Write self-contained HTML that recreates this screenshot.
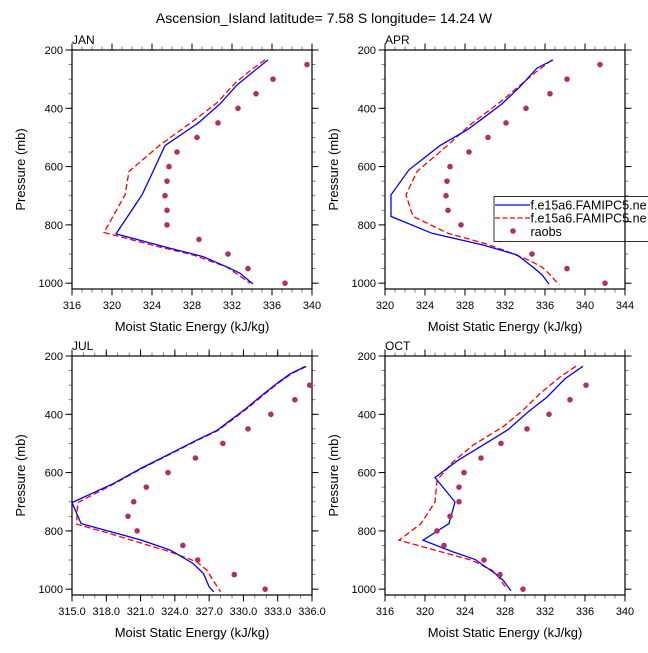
<!DOCTYPE html>
<html><head><meta charset="utf-8"><style>
html,body{margin:0;padding:0;background:#fff;overflow:hidden;}
svg text{font-family:"Liberation Sans",sans-serif;fill:#000;}
</style></head><body>
<svg id="fig" width="648" height="648" viewBox="0 0 648 648" xmlns="http://www.w3.org/2000/svg">
<text x="324" y="23" text-anchor="middle" font-size="14">Ascension_Island  latitude= 7.58 S longitude= 14.24 W</text>
</svg>
<script>
// Shared raob pressure levels
const raobP = [250,300,350,400,450,500,550,600,650,700,750,800,850,900,950,1000];
const yTicks = [200,400,600,800,1000];

// JAN
const janBlueP = [234,278,320,385,451,528,617,697,831,880,909,949,966,1003];
const janBlueV = [335.6,334.0,332.5,330.8,328.6,325.3,324.1,323.0,320.4,325.8,329.1,331.8,332.8,334.1];
const janRedP = [234,266,314,381,434,526,617,697,826,874,903,945,983,1000];
const janRedV = [335.3,334.0,332.3,330.5,328.5,324.8,321.7,321.3,319.2,324.5,328.1,331.5,333.1,333.8];
const janRaob = [339.5,336.1,334.4,332.6,330.6,328.5,326.5,325.7,325.5,325.3,325.5,325.5,328.7,331.6,333.6,337.3];
const janXTicks = [316,320,324,328,332,336,340];

// APR
const aprBlueP = [234,262,326,385,434,474,528,611,697,771,829,869,903,945,971,1003];
const aprBlueV = [336.8,335.2,333.5,331.7,329.8,328.2,325.5,322.4,320.6,320.6,324.7,329.8,333.2,334.8,335.7,336.4];
const aprRedP = [234,278,371,457,526,617,697,771,829,866,891,923,945,971,1006];
const aprRedV = [336.7,335.0,331.8,328.5,326.3,323.2,322.1,322.8,326.3,330.2,332.2,334.5,335.7,336.5,337.4];
const aprRaob = [341.5,338.2,336.5,334.1,332.1,330.3,328.4,326.5,326.2,326.1,326.3,327.6,331.5,334.7,338.2,342.0];
const aprXTicks = [320,324,328,332,336,340,344];

// JUL
const julBlueP = [236,261,289,329,381,455,489,535,586,638,703,775,832,866,912,946,992,1009];
const julBlueV = [335.4,334.1,333.1,331.8,330.2,327.7,325.9,323.6,321.0,318.6,315.0,315.8,321.1,323.6,325.6,326.5,327.0,327.4];
const julRedP = [236,261,289,329,381,455,489,535,586,638,703,777,809,872,906,935,967,1009];
const julRedV = [335.5,334.2,333.2,331.9,330.3,327.8,326.0,323.7,321.1,318.7,315.5,315.4,318.3,323.6,325.9,326.8,327.3,328.0];
const julRaob = [null,335.8,334.5,332.4,330.4,328.2,325.8,323.4,321.5,320.4,319.9,320.7,324.7,326.0,329.2,331.9];
const julXTicks = ["315.0","318.0","321.0","324.0","327.0","330.0","333.0","336.0"];

// OCT
const octBlueP = [235,278,341,392,453,512,558,617,701,775,832,872,898,946,969,1006];
const octBlueV = [335.8,334.0,332.2,330.3,328.3,325.5,323.3,321.0,323.0,322.4,319.8,322.8,325.0,327.0,327.8,328.6];
const octRedP = [235,272,329,386,443,506,563,626,701,775,832,901,935,960,1001];
const octRedV = [335.1,333.5,331.5,329.8,327.8,324.8,322.8,321.2,321.0,319.6,317.4,324.7,326.7,327.4,328.2];
const octRaob = [null,336.1,334.5,332.4,330.2,327.6,325.6,323.9,323.4,323.4,322.5,321.2,321.9,325.9,327.5,329.8];
const octXTicks = [316,320,324,328,332,336,340];

const NS = "http://www.w3.org/2000/svg";
const svg = document.getElementById('fig');
function mk(tag, attrs, parent){
  const e = document.createElementNS(NS, tag);
  for (const k in attrs) e.setAttribute(k, attrs[k]);
  (parent||svg).appendChild(e);
  return e;
}

function panel(cfg){
  const g = mk('g', {});
  
  
  const L = cfg.x0, R = cfg.x1, T = cfg.y0, B = cfg.y0 + 239;
  const pMin = 200, pMax = 1020;
  const xs = v => L + (v - cfg.xmin) / (cfg.xmax - cfg.xmin) * (R - L);
  const ys = p => T + (p - pMin) / (pMax - pMin) * (B - T);
  const clip = 'clip-' + cfg.name;
  const cp = mk('clipPath', {id: clip}, g);
  mk('rect', {x: L, y: T, width: R - L, height: B - T}, cp);

  for (let v = Math.ceil(cfg.xmin); v <= cfg.xmax + 1e-6; v += 1) {
    const X = xs(v);
    mk('line', {x1: X, x2: X, y1: B, y2: B + 3.5, stroke: '#666', 'stroke-width': 0.8}, g);
    mk('line', {x1: X, x2: X, y1: T, y2: T - 3.5, stroke: '#666', 'stroke-width': 0.8}, g);
  }
  for (let p = 250; p <= 1000; p += 50) {
    const Y = ys(p);
    mk('line', {x1: L, x2: L - 3.5, y1: Y, y2: Y, stroke: '#666', 'stroke-width': 0.8}, g);
    mk('line', {x1: R, x2: R + 3.5, y1: Y, y2: Y, stroke: '#666', 'stroke-width': 0.8}, g);
  }
  cfg.xticks.forEach(t => {
    const X = xs(parseFloat(t));
    mk('line', {x1: X, x2: X, y1: B, y2: B + 6.5, stroke: '#000', 'stroke-width': 1}, g);
    mk('line', {x1: X, x2: X, y1: T, y2: T - 6.5, stroke: '#000', 'stroke-width': 1}, g);
    const tx = mk('text', {x: X, y: B + 20, 'text-anchor': 'middle', 'font-size': 11}, g);
    
    
    tx.textContent = t;
  });
  yTicks.forEach(t => {
    const Y = ys(t);
    mk('line', {x1: L, x2: L - 6.5, y1: Y, y2: Y, stroke: '#000', 'stroke-width': 1}, g);
    mk('line', {x1: R, x2: R + 6.5, y1: Y, y2: Y, stroke: '#000', 'stroke-width': 1}, g);
    const tx = mk('text', {x: L - 9, y: Y + 4, 'text-anchor': 'end', 'font-size': 11}, g);
    
    
    tx.textContent = t;
  });
  const box = mk('rect', {x: L, y: T, width: R - L, height: B - T, fill: 'none', stroke: '#000', 'stroke-width': 1.2}, g);
  
  

  const ttl = mk('text', {x: L, y: T - 6, 'font-size': 12}, g);
  
  
  ttl.textContent = cfg.label;

  const xt = mk('text', {x: (L + R) / 2, y: B + 42, 'text-anchor': 'middle', 'font-size': 13}, g);
  
  
  xt.textContent = 'Moist Static Energy (kJ/kg)';

  const yt = mk('text', {x: 0, y: 0, 'text-anchor': 'middle', 'font-size': 13, transform: `translate(${L - 47},${(T + B) / 2}) rotate(-90)`}, g);
  
  
  yt.textContent = 'Pressure (mb)';

  const dg = mk('g', {'clip-path': `url(#${clip})`}, g);
  const path = (P, V) => P.map((p, i) => (i ? 'L' : 'M') + xs(V[i]).toFixed(1) + ',' + ys(p).toFixed(1)).join(' ');
  const red = mk('path', {d: path(cfg.redP, cfg.redV), fill: 'none', stroke: '#ff0000', 'stroke-width': 1.3, 'stroke-dasharray': '6,3'}, dg);
  
  
  const blue = mk('path', {d: path(cfg.blueP, cfg.blueV), fill: 'none', stroke: '#0000ff', 'stroke-width': 1.3}, dg);
  
  
  cfg.raob.forEach((v, i) => {
    if (v === null) return;
    const c = mk('circle', {cx: xs(v), cy: ys(raobP[i]), r: 2.8, fill: '#b03060'}, g);
    
    
  });
}

panel({name:'jan', label:'JAN', x0:72, x1:312, y0:50, xmin:316, xmax:340, xticks:janXTicks, blueP:janBlueP, blueV:janBlueV, redP:janRedP, redV:janRedV, raob:janRaob});
panel({name:'apr', label:'APR', x0:385, x1:625, y0:50, xmin:320, xmax:344, xticks:aprXTicks, blueP:aprBlueP, blueV:aprBlueV, redP:aprRedP, redV:aprRedV, raob:aprRaob});
panel({name:'jul', label:'JUL', x0:72, x1:312, y0:356, xmin:315, xmax:336, xticks:julXTicks, blueP:julBlueP, blueV:julBlueV, redP:julRedP, redV:julRedV, raob:julRaob});
panel({name:'oct', label:'OCT', x0:385, x1:625, y0:356, xmin:316, xmax:340, xticks:octXTicks, blueP:octBlueP, blueV:octBlueV, redP:octRedP, redV:octRedV, raob:octRaob});

// Legend (APR panel)
const lg = mk('g', {});


mk('rect', {x: 494, y: 196.5, width: 200, height: 45, fill: '#fff', stroke: '#000', 'stroke-width': 0.8}, lg);
const e1 = mk('line', {x1: 495, x2: 530, y1: 205, y2: 205, stroke: '#0000ff', 'stroke-width': 1.3}, lg);


const t1 = mk('text', {x: 530.5, y: 209.5, 'font-size': 12.5}, lg);


t1.textContent = 'f.e15a6.FAMIPC5.ne';
const e2 = mk('line', {x1: 495, x2: 530, y1: 218, y2: 218, stroke: '#ff0000', 'stroke-width': 1.3, 'stroke-dasharray': '5,2.5'}, lg);


const t2 = mk('text', {x: 530.5, y: 222.5, 'font-size': 12.5}, lg);


t2.textContent = 'f.e15a6.FAMIPC5.ne';
const e3 = mk('circle', {cx: 513, cy: 231, r: 2.8, fill: '#b03060'}, lg);


const t3 = mk('text', {x: 530.5, y: 236, 'font-size': 12.5}, lg);


t3.textContent = 'raobs';
// APR right axis drawn over legend
mk('line', {x1: 625, x2: 625, y1: 196, y2: 242, stroke: '#000', 'stroke-width': 1.2}, lg);
mk('line', {x1: 625, x2: 631.5, y1: 221.6, y2: 221.6, stroke: '#000', 'stroke-width': 1}, lg);
</script>
</body></html>
